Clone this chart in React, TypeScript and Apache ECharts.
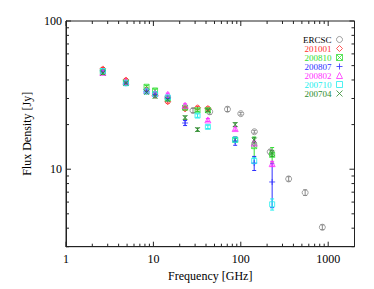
import React, { useEffect, useRef } from "react";
import * as echarts from "echarts";

// Frequencies (GHz) of the monitoring campaigns
const FREQ = [2.64, 4.85, 8.35, 10.45, 14.6, 23.05, 32.0, 42.0, 86.24, 142.33, 228.39];

// Planck ERCSC
const ERCSC_FREQ = [28.4, 44.1, 70.4, 100, 143, 217, 353, 545, 857];
const ERCSC_FLUX = [24.9, 24.4, 25.4, 23.7, 17.9, 13.1, 8.6, 6.95, 4.06];
const ERCSC_ERR = [0.8, 0.9, 0.9, 0.5, 0.4, 0.4, 0.3, 0.3, 0.15];

// Epochs (flux in Jy, error in Jy), aligned with FREQ; null = not observed
const E201001 = [47.5, 40, 34.5, 31.5, 28.5, 25.5, 26, 25.7, null, null, null];
const E201001_ERR = [1, 0.8, 0.7, 0.7, 0.6, 0.5, 0.6, 0.6, 0, 0, 0];
const E200810 = [45.5, 38.5, 36, 34, 30, 26, 25, 25, 15.8, 14.3, 12.5];
const E200810_ERR = [1, 0.8, 0.8, 0.8, 0.6, 0.5, 0.5, 0.5, 0.5, 2.2, 1.5];
const E200807 = [46, 38, 33.5, 32, 30, 20.5, null, null, 15.5, 11, 8.2];
const E200807_ERR = [1, 0.8, 0.7, 0.7, 0.6, 0.8, 0, 0, 1.0, 1.2, 2.7];
const E200802 = [45, 39, 34, 32.5, 32, 27, null, 21.5, 18.8, 15, 10.9];
const E200802_ERR = [1, 0.8, 0.7, 0.7, 0.6, 0.6, 0, 0.5, 0.5, 0.5, 0.4];
const E200710 = [46, 38, 33.5, 32, 30.5, null, 23, 19.3, 15.8, 11.4, 5.8];
const E200710_ERR = [1, 0.8, 0.7, 0.7, 0.6, 0, 0.6, 0.5, 0.5, 0.5, 0.5];
const E200704 = [44.5, 38, 33, 31, 29.5, 22.3, 18.5, 25, 20, 15.7, 12.8];
const E200704_ERR = [1, 0.8, 0.7, 0.7, 0.6, 0.6, 0.5, 0.5, 0.6, 0.6, 0.6];

const X_MIN = 1;
const X_MAX = 2000;
const Y_MIN = 3;
const Y_MAX = 100;

const SERIES = [
  { name: "ERCSC", freq: ERCSC_FREQ, flux: ERCSC_FLUX, err: ERCSC_ERR, color: "#8a8a8a", text: "#000", symbol: "circle", size: 6 },
  { name: "201001", freq: FREQ, flux: E201001, err: E201001_ERR, color: "#ff3030", text: "#ff3030", symbol: "diamond", size: 6 },
  { name: "200810", freq: FREQ, flux: E200810, err: E200810_ERR, color: "#33dd33", text: "#33dd33", symbol: "path://M0,0L10,0L10,10L0,10ZM0,0L10,10M10,0L0,10", size: 5 },
  { name: "200807", freq: FREQ, flux: E200807, err: E200807_ERR, color: "#3030ff", text: "#3030ff", symbol: "path://M5,0L5,10M0,5L10,5", size: 6 },
  { name: "200802", freq: FREQ, flux: E200802, err: E200802_ERR, color: "#ff30ff", text: "#ff30ff", symbol: "triangle", size: 6 },
  { name: "200710", freq: FREQ, flux: E200710, err: E200710_ERR, color: "#20eeee", text: "#20eeee", symbol: "rect", size: 5 },
  { name: "200704", freq: FREQ, flux: E200704, err: E200704_ERR, color: "#2e8b2e", text: "#2e8b2e", symbol: "path://M0,0L10,10M10,0L0,10", size: 5 },
];

function isPow10(v: number) {
  const l = Math.log10(v);
  return Math.abs(l - Math.round(l)) < 1e-6;
}

export default function App() {
  const ref = useRef<HTMLDivElement>(null);
  useEffect(() => {
    if (!ref.current) return;
    const chart = echarts.init(ref.current, null, { renderer: "svg" });
    const font = "Liberation Serif";

    const xTicks: number[] = [];
    for (let d = 1; d <= 1000; d *= 10) for (let k = 1; k <= 9; k++) { const v = d * k; if (v >= X_MIN && v <= X_MAX) xTicks.push(v); }
    const yTicks: number[] = [];
    for (let d = 1; d <= 100; d *= 10) for (let k = 1; k <= 9; k++) { const v = d * k; if (v >= Y_MIN && v <= Y_MAX) yTicks.push(v); }

    const series: any[] = [];
    SERIES.forEach((s) => {
      const pts: any[] = [];
      s.freq.forEach((f, i) => { const v = s.flux[i]; if (v != null) pts.push([f, v, s.err[i] || 0]); });
      series.push({
        type: "custom",
        name: "err_" + s.name,
        silent: true,
        data: pts,
        renderItem: (params: any, api: any) => {
          const x = api.value(0), y = api.value(1), e = api.value(2);
          if (!e) return null;
          const lo = api.coord([x, y - e]);
          const hi = api.coord([x, y + e]);
          const st = { stroke: s.color, lineWidth: 1 };
          return {
            type: "group",
            children: [
              { type: "line", shape: { x1: lo[0], y1: lo[1], x2: hi[0], y2: hi[1] }, style: st },
              { type: "line", shape: { x1: lo[0] - 2, y1: lo[1], x2: lo[0] + 2, y2: lo[1] }, style: st },
              { type: "line", shape: { x1: hi[0] - 2, y1: hi[1], x2: hi[0] + 2, y2: hi[1] }, style: st },
            ],
          };
        },
        z: 2,
      });
      series.push({
        type: "scatter",
        name: s.name,
        data: pts.map((p) => [p[0], p[1]]),
        symbol: s.symbol,
        symbolSize: s.size,
        itemStyle: { color: "transparent", borderColor: s.color, borderWidth: 1 },
        z: 3,
      });
    });

    // axis ticks (major + minor) on all four sides, through the axis scales
    series.push({
      type: "custom",
      name: "ticks",
      silent: true,
      data: [[X_MIN, Y_MIN]],
      renderItem: (params: any, api: any) => {
        const cs = params.coordSys;
        const children: any[] = [];
        const st = { stroke: "#222", lineWidth: 1 };
        xTicks.forEach((v) => {
          const px = api.coord([v, Y_MIN])[0];
          const len = isPow10(v) ? 5 : 3;
          children.push({ type: "line", shape: { x1: px, y1: cs.y + cs.height, x2: px, y2: cs.y + cs.height - len }, style: st });
          children.push({ type: "line", shape: { x1: px, y1: cs.y, x2: px, y2: cs.y + len }, style: st });
        });
        yTicks.forEach((v) => {
          const py = api.coord([X_MIN, v])[1];
          const len = isPow10(v) ? 5 : 3;
          children.push({ type: "line", shape: { x1: cs.x, y1: py, x2: cs.x + len, y2: py }, style: st });
          children.push({ type: "line", shape: { x1: cs.x + cs.width, y1: py, x2: cs.x + cs.width - len, y2: py }, style: st });
        });
        return { type: "group", children };
      },
      z: 1,
    });

    chart.setOption({
      animation: false,
      backgroundColor: "#fff",
      textStyle: { fontFamily: font },
      grid: { left: 66, right: 19.5, top: 21, bottom: 42.3, show: true, borderColor: "#222", borderWidth: 1, outerBoundsMode: "none" },
      legend: {
        orient: "vertical",
        right: 26,
        top: 30,
        align: "right",
        itemWidth: 6,
        itemHeight: 6,
        itemGap: 0,
        selectedMode: false,
        textStyle: { fontFamily: font, fontSize: 9, lineHeight: 8.5 },
        data: SERIES.map((s) => ({
          name: s.name,
          textStyle: { color: s.text },
          itemStyle: { color: "transparent", borderColor: s.color, borderWidth: 1 },
        })),
      },
      xAxis: {
        type: "log",
        logBase: 10,
        min: X_MIN,
        max: X_MAX,
        name: "Frequency [GHz]",
        nameLocation: "middle",
        nameGap: 20,
        nameTextStyle: { fontFamily: font, fontSize: 12, color: "#000" },
        axisLine: { show: true, lineStyle: { color: "#222" } },
        axisTick: { show: false },
        splitLine: { show: false },
        axisLabel: {
          fontFamily: font, fontSize: 12, color: "#000", margin: 6,
          formatter: (v: number) => (isPow10(v) ? String(Math.round(v)) : ""),
        },
      },
      yAxis: {
        type: "log",
        logBase: 10,
        min: Y_MIN,
        max: Y_MAX,
        name: "Flux Density [Jy]",
        nameLocation: "middle",
        nameGap: 30,
        nameTextStyle: { fontFamily: font, fontSize: 12, color: "#000" },
        axisLine: { show: true, lineStyle: { color: "#222" } },
        axisTick: { show: false },
        splitLine: { show: false },
        axisLabel: {
          fontFamily: font, fontSize: 12, color: "#000", margin: 4,
          formatter: (v: number) => (isPow10(v) ? String(Math.round(v)) : ""),
        },
      },
      series,
    });
    return () => chart.dispose();
  }, []);
  return <div ref={ref} style={{ position: "fixed", left: 0, top: 0, width: 374, height: 289 }} />;
}
